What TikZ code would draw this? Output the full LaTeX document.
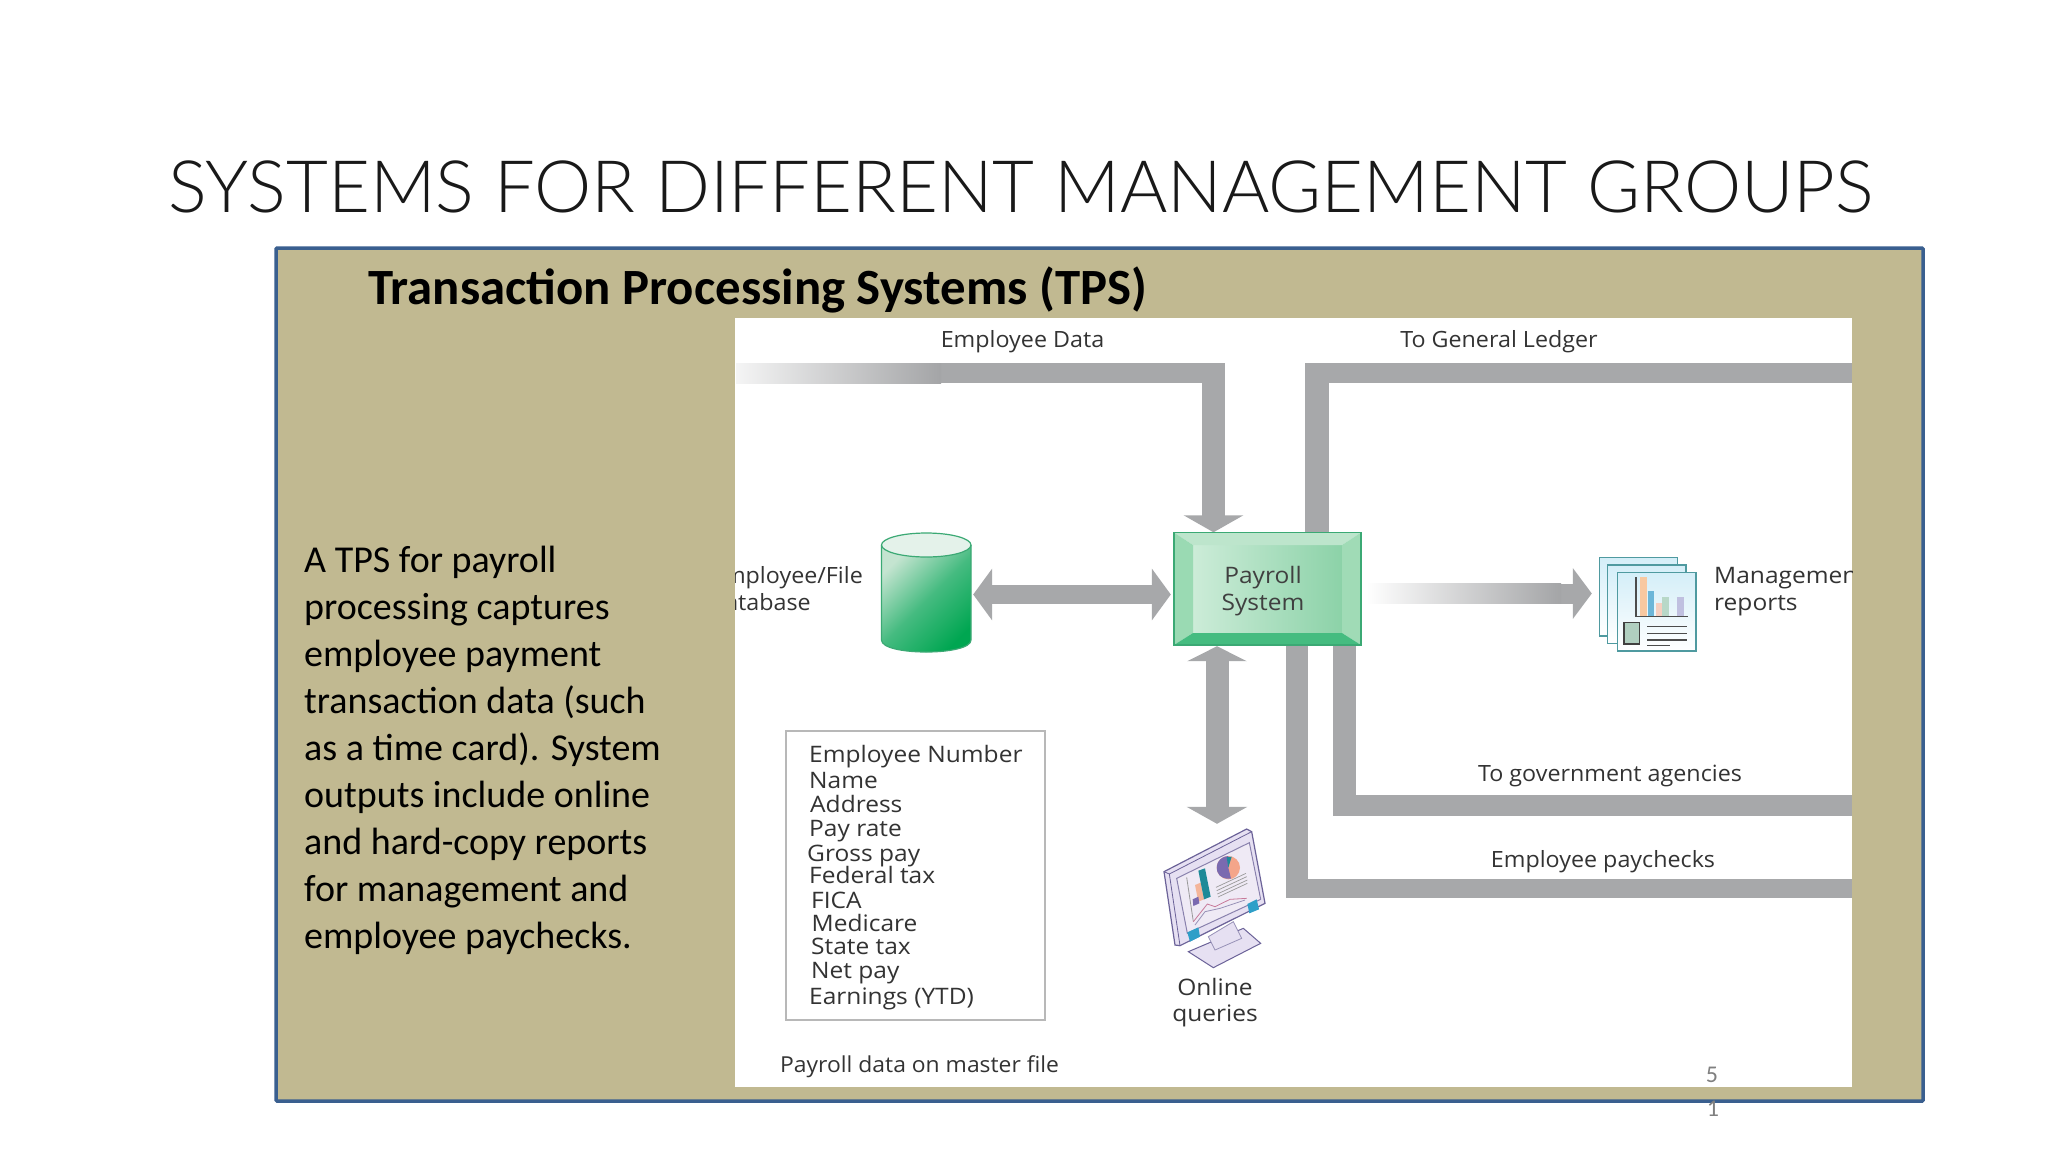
\documentclass[tikz,border=0pt]{standalone}
\usepackage{fontspec}
\usetikzlibrary{arrows.meta}
\setmainfont{Carlito}
\newfontfamily\titlefont{Lato Light}
\newfontfamily\labfont[FakeStretch=1.04]{Open Sans}
\newfontfamily\labwide[FakeStretch=1.08]{Open Sans}
\definecolor{barg}{HTML}{A7A8AA}
\definecolor{panel}{HTML}{C1B991}
\definecolor{panelb}{HTML}{3A5F8F}
\definecolor{ink}{HTML}{333333}
\definecolor{gbox}{HTML}{3BA974}
\definecolor{gtop}{HTML}{BDE5CC}
\definecolor{gleft}{HTML}{9ADAB3}
\definecolor{gright}{HTML}{A0DBB6}
\definecolor{gbot}{HTML}{45BC80}
\definecolor{ginl}{HTML}{CCECD8}
\definecolor{ginr}{HTML}{8CD2A8}
\definecolor{dbhi}{HTML}{C4E4D0}
\definecolor{dbmid}{HTML}{45BB80}
\definecolor{dblo}{HTML}{00A651}
\definecolor{dbcap}{HTML}{E4F2EA}
\definecolor{iconb}{HTML}{4F9AA0}
\definecolor{icontop}{HTML}{D4EEF8}
\definecolor{mono}{HTML}{6B6298}
\definecolor{monfill}{HTML}{E6E0F2}
\definecolor{scr}{HTML}{EFEAF5}
\definecolor{monblue}{HTML}{2F9FC8}
\definecolor{barpeach}{HTML}{F8C8A0}
\definecolor{barblue}{HTML}{6DB6D8}
\definecolor{barpink}{HTML}{F6CFC0}
\definecolor{bargreen}{HTML}{B8D8C8}
\definecolor{barlav}{HTML}{C0C0E0}
\definecolor{sidebox}{HTML}{B0CFC0}
\definecolor{mpeach}{HTML}{F4B59A}
\definecolor{mteal}{HTML}{1E8A98}
\definecolor{mpurple}{HTML}{7A6AB0}
\definecolor{mpie}{HTML}{F4A58A}
\definecolor{mline}{HTML}{C87A9A}
\tikzset{
  hbar/.style={draw=barg,line width=20pt},
  vbar/.style={draw=barg,line width=23pt},
  lab/.style={font=\labfont\fontsize{22.4}{27}\selectfont,text=ink,inner sep=0pt,text height=16pt,text depth=5pt,yshift=-2.5pt},
  labw/.style={lab,font=\labwide\fontsize{22.7}{27}\selectfont},
}
\begin{document}
\begin{tikzpicture}[x=1pt,y=-1pt]
\useasboundingbox (0,0) rectangle (2048,1152);
\fill[white] (0,0) rectangle (2048,1152);
% title
\node[font=\titlefont\fontsize{72.3}{76}\selectfont,text=black!90,inner sep=0pt] (title) at (1021,186.5) {SYSTEMS FOR DIFFERENT MANAGEMENT GROUPS};
% panel
\draw[fill=panel,draw=panelb,line width=3.5pt,rounded corners=1pt] (276,248) rectangle (1923,1101);
\node[font=\bfseries\fontsize{50.8}{54}\selectfont,text=black,inner sep=0pt,anchor=west] (head) at (368,289.5) {Transaction Processing Systems (TPS)};
\node[font=\fontsize{38}{47}\selectfont,text=black,inner sep=0pt,anchor=west,align=left] (body) at (304,750) {A TPS for payroll\\processing captures\\employee payment\\transaction data (such\\as a time card). System\\outputs include online\\and hard-copy reports\\for management and\\employee paychecks.};
% image
\fill[white] (735,318) rectangle (1852,1087);
% anchors
\node[inner sep=0pt,minimum width=187pt,minimum height=112.5pt] (pay) at (1267.5,588.75) {};
\node[inner sep=0pt,minimum width=89.5pt,minimum height=119pt] (db) at (926.25,592.5) {};
\node[inner sep=0pt,minimum width=97pt,minimum height=94pt] (rep) at (1647.5,604) {};
\node[inner sep=0pt,minimum width=101pt,minimum height=139pt] (mon) at (1214.5,898.5) {};
\coordinate (empstart) at (940,373);
\coordinate (empcorner) at (1213.5,373);
\coordinate (ledcorner) at (1317,373);
\coordinate (ledend) at (1852,373);
\coordinate (dbarrow) at (1070,594.5);
\coordinate (repstart) at (1560,593.5);
\coordinate (updown) at (1217,740);
\coordinate (paycorner) at (1297,888.5);
\coordinate (payend) at (1852,888.5);
\coordinate (govcorner) at (1344.5,805);
\coordinate (govend) at (1852,805);
% connectors
\draw[hbar,shorten >=-11.5pt] (empstart) -- (empcorner);
\draw[vbar,shorten <=-10pt,-{Triangle[length=17pt,width=59pt]}] (empcorner) -- (empcorner |- pay.north);
\draw[hbar] (ledend) -- (ledcorner);
\draw[line width=24pt,draw=barg,shorten >=-10pt] (ledcorner |- pay.north) -- (ledcorner);
\draw[line width=19pt,draw=barg,{Triangle[length=19pt,width=51pt]}-{Triangle[length=19pt,width=51pt]},shorten <=2pt,shorten >=3pt] (db.east |- dbarrow) -- (pay.west |- dbarrow);
\draw[hbar,-{Triangle[length=19pt,width=50pt]},shorten >=7pt] (repstart) -- (rep.west |- repstart);
\draw[vbar,{Triangle[length=15pt,width=59pt]}-{Triangle[length=17pt,width=60pt]},shorten <=1pt,shorten >=5pt] (updown |- pay.south) -- (updown |- mon.north);
\draw[vbar,line width=22pt,shorten >=-9.5pt] (paycorner |- pay.south) -- (paycorner);
\draw[line width=19pt,draw=barg] (payend) -- ([xshift=-11pt]paycorner);
\draw[vbar,shorten >=-10pt] (govcorner |- pay.south) -- (govcorner);
\draw[hbar,line width=21pt] (govend) -- ([xshift=-11.5pt]govcorner);
% gradient bar ends
\shade[left color=white!88!barg,right color=barg!98!black] (736,363) rectangle (941,383);
\shade[left color=white,right color=barg!98!black] (1366,583.5) rectangle (1561,603.5);
% payroll box
\shade[left color=ginl,right color=ginr] (1193,545) rectangle (1342,633);
\fill[gtop] (1174,532.5) -- (1361,532.5) -- (1342,545) -- (1193,545) -- cycle;
\fill[gleft] (1174,532.5) -- (1193,545) -- (1193,633) -- (1174,645) -- cycle;
\fill[gright] (1361,532.5) -- (1342,545) -- (1342,633) -- (1361,645) -- cycle;
\fill[gbot] (1174,645) -- (1193,633) -- (1342,633) -- (1361,645) -- cycle;
\draw[gbox,line width=1.5pt] (1174,532.5) rectangle (1361,645);
\node[labw,text=black!75] (payt1) at (1263,575) {Payroll};
\node[labw,text=black!75] (payt2) at (1263,602) {System};
% database
\shade[top color=dbhi,bottom color=dblo,middle color=dbmid,shading angle=45] (881.5,545) -- (881.5,640) .. controls (881.5,656) and (971,656) .. (971,640) -- (971,545) -- cycle;
\draw[gbox,line width=1.2pt,fill=dbcap] (926.25,545) ellipse [x radius=44.75pt,y radius=12pt];
\draw[gbox,line width=1.2pt] (881.5,545) -- (881.5,640) .. controls (881.5,656) and (971,656) .. (971,640) -- (971,545);
% clipped labels
\begin{scope}
\clip (735,318) rectangle (1852,1087);
\node[lab,anchor=east] (dbt1) at (863,575) {Employee/File};
\node[lab,anchor=east] (dbt2) at (811,602) {Database};
\node[labw,anchor=west] (rt1) at (1714,575) {Management};
\node[labw,anchor=west] (rt2) at (1714,602) {reports};
\end{scope}
% diagram labels
\node[lab] (l1) at (1022.5,339) {Employee Data};
\node[lab] (l2) at (1499,339) {To General Ledger};
\node[lab] (l3) at (1610,773) {To government agencies};
\node[lab] (l4) at (1603,859) {Employee paychecks};
\node[labw] (l5) at (1215,987) {Online};
\node[labw] (l6) at (1215,1013) {queries};
\node[lab,anchor=west,font=\labfont\fontsize{22}{27}\selectfont] (l7) at (780,1064) {Payroll data on master file};
% list
\draw[draw=black!28,line width=1.5pt] (786,731) rectangle (1045,1020);
\foreach \n/\xx/\yy/\t in {1/809/754/Employee Number,2/809/780/Name,3/810/804/Address,4/809/828/Pay rate,5/807/853/Gross pay,6/809/875/Federal tax,7/811/900/FICA,8/811.5/923/Medicare,9/811/946/State tax,10/811/970/Net pay,11/809/996/Earnings (YTD)}
  \node[labw,anchor=west] (f\n) at (\xx,\yy) {\t};
% page number
\node[font=\fontsize{24}{26}\selectfont,text=black!50,inner sep=0pt] (pn1) at (1712,1075) {5};
\node[font=\fontsize{24}{26}\selectfont,text=black!50,inner sep=0pt] (pn2) at (1713,1109) {1};
% report icon
\begin{scope}[shift={(1560,520)},x=0.33333pt,y=-0.33333pt]
\foreach \a/\b/\c/\d in {118/112/353/348,143/135/378/370,172/157/408/393}{
  \shade[top color=icontop,bottom color=white] (\a,\b) rectangle (\c,\d);
  \draw[iconb,line width=1.5pt] (\a,\b) rectangle (\c,\d);
}
\fill[barpeach] (240,172) rectangle (262,290);
\fill[barblue] (264,213) rectangle (282,290);
\fill[barpink] (288,250) rectangle (305,290);
\fill[bargreen] (307,232) rectangle (327,290);
\fill[barlav] (350,232) rectangle (372,290);
\draw[black!70,line width=1.2pt] (228,172) -- (228,290) -- (385,290);
\draw[black!75,fill=sidebox,line width=1.3pt] (192,308) rectangle (238,372);
\draw[black!70,line width=1.2pt] (262,320) -- (380,320) (262,340) -- (380,340) (262,360) -- (380,360) (262,376) -- (330,376);
\end{scope}
% monitor
\begin{scope}[shift={(1130,800)},x=0.33333pt,y=-0.33333pt]
\draw[mono,fill=monfill,line width=1pt] (175,455) -- (340,385) -- (392,430) -- (250,503) -- cycle;
\draw[mono!70,fill=monfill,line width=.8pt] (235,410) -- (310,365) -- (335,415) -- (255,450) -- cycle;
\draw[mono,fill=monfill,line width=1.2pt] (102,215) -- (350,87) -- (365,95) -- (405,310) -- (150,437) -- (135,435) -- cycle;
\draw[mono,line width=.8pt] (102,215) -- (118,222) -- (365,95) (118,222) -- (150,437);
\draw[mono!80,fill=scr,line width=1pt] (140,235) -- (358,128) -- (392,298) -- (172,400) -- cycle;
\fill[monblue] (172,397) -- (205,382) -- (210,410) -- (180,425) -- cycle;
\fill[monblue] (352,312) -- (380,298) -- (387,328) -- (358,340) -- cycle;
\draw[black!40,line width=.8pt] (170,232) -- (190,365);
\fill[mpeach] (195,255) -- (212,248) -- (222,298) -- (205,305) -- cycle;
\fill[mteal] (205,212) -- (225,205) -- (242,290) -- (222,298) -- cycle;
\fill[mpurple] (188,298) -- (205,290) -- (208,310) -- (190,318) -- cycle;
\fill[mpie] (295,203) ellipse [x radius=11.67pt,y radius=11.67pt];
\fill[mpurple] (295,203) -- (295,168) .. controls (270,170) and (255,190) .. (262,215) .. controls (268,232) and (285,238) .. (303,236) -- cycle;
\fill[mteal] (295,203) -- (290,172) -- (305,170) -- cycle;
\draw[black!40,line width=.7pt] (258,262) -- (348,220) (260,272) -- (350,230) (262,282) -- (352,240) (264,291) -- (352,250);
\draw[mline,line width=.8pt] (190,365) -- (232,312) -- (255,320) -- (300,298) -- (350,295);
\draw[mono!70,line width=.8pt] (195,375) -- (225,335) -- (270,325) -- (345,300);
\end{scope}
\end{tikzpicture}
\end{document}
